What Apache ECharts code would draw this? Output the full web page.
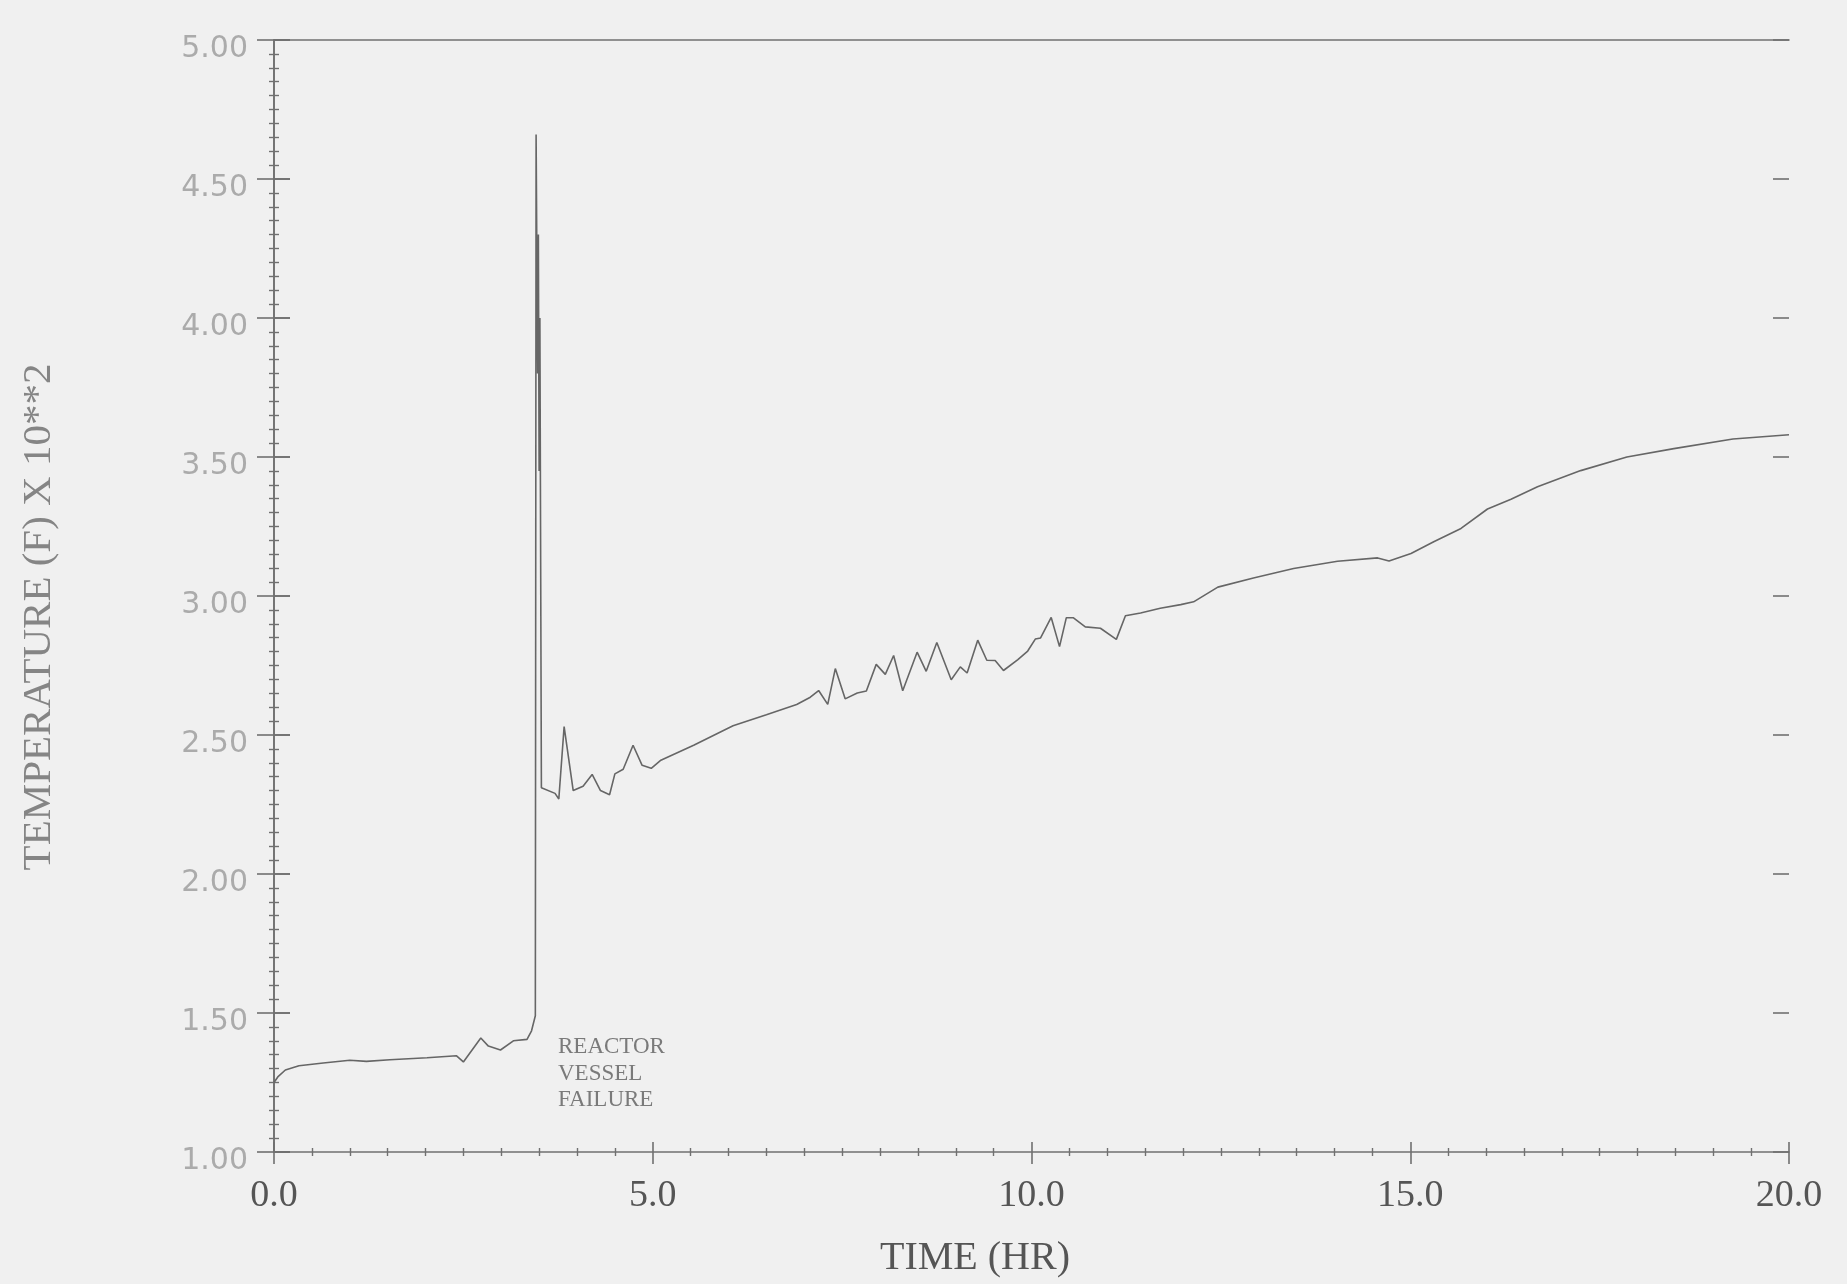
<!DOCTYPE html>
<html>
<head>
<meta charset="utf-8">
<script src="https://cdn.jsdelivr.net/npm/echarts@6/dist/echarts.min.js"></script>
<style>
  html, body { margin: 0; padding: 0; background: #f0f0f0; }
  #chart { width: 1847px; height: 1284px; }
</style>
</head>
<body>
<div id="chart"></div>
<script>
// ---- data (time in hours, temperature in units of 10**2 F) ----
const timeHr = [
  0.00, 0.05, 0.15, 0.33, 0.65, 1.00, 1.22, 1.53, 2.02, 2.41, 2.50, 2.73, 2.83, 2.99, 3.16, 3.34, 3.40, 3.45,
  3.46, 3.48, 3.49, 3.50, 3.51, 3.53,
  3.71, 3.76, 3.83, 3.95, 4.08, 4.20, 4.31, 4.43, 4.50, 4.61, 4.74, 4.86, 4.98, 5.10, 5.54, 6.06, 6.50, 6.90,
  7.08, 7.19, 7.31, 7.41, 7.54, 7.70, 7.82, 7.95, 8.07, 8.18, 8.30, 8.49, 8.61, 8.75, 8.94, 9.06, 9.15, 9.29,
  9.41, 9.52, 9.63, 9.82, 9.95, 10.05, 10.12, 10.26, 10.37, 10.46, 10.55, 10.71, 10.91, 11.12, 11.24, 11.44,
  11.70, 11.97, 12.14, 12.46, 12.93, 13.46, 14.04, 14.57, 14.72, 15.01, 15.31, 15.67, 16.02, 16.33, 16.68,
  17.25, 17.86, 18.48, 19.26, 20.00
];
const tempF100 = [
  1.250, 1.270, 1.295, 1.310, 1.320, 1.330, 1.326, 1.332, 1.339, 1.346, 1.324, 1.410, 1.381, 1.367, 1.400, 1.405, 1.436, 1.490,
  4.660, 3.800, 4.300, 3.450, 4.000, 2.310,
  2.290, 2.270, 2.530, 2.300, 2.316, 2.358, 2.300, 2.285, 2.360, 2.377, 2.463, 2.391, 2.380, 2.408, 2.463, 2.533, 2.573, 2.610,
  2.636, 2.660, 2.610, 2.739, 2.630, 2.651, 2.658, 2.754, 2.718, 2.786, 2.659, 2.798, 2.729, 2.833, 2.699, 2.745, 2.723, 2.841,
  2.769, 2.768, 2.732, 2.771, 2.802, 2.845, 2.849, 2.923, 2.818, 2.922, 2.922, 2.889, 2.884, 2.844, 2.929, 2.939,
  2.956, 2.969, 2.979, 3.032, 3.065, 3.099, 3.125, 3.137, 3.126, 3.153, 3.195, 3.243, 3.313, 3.348, 3.393,
  3.451, 3.500, 3.530, 3.565, 3.580
];
const xTickLabels = ['0.0', '5.0', '10.0', '15.0', '20.0'];
const yTickLabels = ['1.00', '1.50', '2.00', '2.50', '3.00', '3.50', '4.00', '4.50', '5.00'];
const xAxisTitle = 'TIME (HR)';
const yAxisTitle = 'TEMPERATURE (F) X 10**2';
const noteLines = ['REACTOR', 'VESSEL', 'FAILURE'];

// ---- chart ----
const seriesData = timeHr.map((t, i) => [t, tempF100[i]]);
const axisGray = '#707070';
const chart = echarts.init(document.getElementById('chart'), null, { renderer: 'canvas' });

const baseX = { type: 'value', min: 0, max: 20, interval: 5, splitLine: { show: false } };
const baseY = { type: 'value', min: 1, max: 5, interval: 0.5, splitLine: { show: false } };

chart.setOption({
  animation: false,
  backgroundColor: '#f0f0f0',
  grid: { left: 274, right: 58, top: 40, bottom: 132, containLabel: false },
  xAxis: [
    Object.assign({}, baseX, {
      position: 'bottom',
      axisLine: { show: true, lineStyle: { color: axisGray, width: 1.6 } },
      axisTick: { show: true, inside: false, length: 12, lineStyle: { color: axisGray, width: 1.6 } },
      minorTick: { show: true, splitNumber: 10, length: 4, lineStyle: { color: axisGray, width: 1.4 } },
      axisLabel: {
        show: true, margin: 25, color: '#555555', fontSize: 38,
        fontFamily: '"Liberation Serif", "DejaVu Serif", serif',
        formatter: (v) => xTickLabels[Math.round(v / 5)]
      }
    }),
    Object.assign({}, baseX, {
      position: 'bottom',
      axisLine: { show: false },
      axisTick: { show: true, inside: true, length: 10, lineStyle: { color: axisGray, width: 1.6 } },
      minorTick: { show: true, splitNumber: 10, length: 4, lineStyle: { color: axisGray, width: 1.4 } },
      axisLabel: { show: false }
    }),
    Object.assign({}, baseX, {
      position: 'top',
      axisLine: { show: true, lineStyle: { color: axisGray, width: 1.6 } },
      axisTick: { show: false },
      axisLabel: { show: false }
    })
  ],
  yAxis: [
    Object.assign({}, baseY, {
      position: 'left',
      axisLine: { show: true, lineStyle: { color: axisGray, width: 1.6 } },
      axisTick: { show: true, inside: false, length: 17, lineStyle: { color: axisGray, width: 1.6 } },
      minorTick: { show: true, splitNumber: 10, length: 5, lineStyle: { color: axisGray, width: 1.4 } },
      axisLabel: {
        show: true, margin: 26, color: '#ababab', fontSize: 30,
        fontFamily: '"DejaVu Sans", sans-serif',
        verticalAlign: 'top', lineHeight: 18,
        formatter: (v) => yTickLabels[Math.round((v - 1) / 0.5)]
      }
    }),
    Object.assign({}, baseY, {
      position: 'left',
      axisLine: { show: false },
      axisTick: { show: true, inside: true, length: 16, lineStyle: { color: axisGray, width: 1.6 } },
      minorTick: { show: true, splitNumber: 10, length: 5, lineStyle: { color: axisGray, width: 1.4 } },
      axisLabel: { show: false }
    }),
    Object.assign({}, baseY, {
      position: 'right',
      axisLine: { show: true, lineStyle: { color: axisGray, width: 1.6 } },
      axisTick: { show: true, inside: false, length: 16, lineStyle: { color: axisGray, width: 1.6 } },
      axisLabel: { show: false }
    }),
    Object.assign({}, baseY, {
      position: 'right',
      axisLine: { show: false },
      axisTick: { show: true, inside: true, length: 16, lineStyle: { color: axisGray, width: 1.6 } },
      axisLabel: { show: false }
    })
  ],
  series: [{
    type: 'line',
    xAxisIndex: 0,
    yAxisIndex: 0,
    data: seriesData,
    showSymbol: false,
    symbol: 'none',
    lineStyle: { color: '#666666', width: 1.6 },
    z: 5
  }],
  graphic: [
    {
      type: 'text', x: 975, y: 1258,
      style: {
        text: xAxisTitle, fill: '#555555', font: '40px "Liberation Serif", "DejaVu Serif", serif',
        textAlign: 'center', textVerticalAlign: 'middle'
      }
    },
    {
      type: 'text', x: 39, y: 617, rotation: Math.PI / 2,
      style: {
        text: yAxisTitle, fill: '#858585', font: '41px "Liberation Serif", "DejaVu Serif", serif',
        textAlign: 'center', textVerticalAlign: 'middle'
      }
    },
    {
      type: 'text', x: 558, y: 1034,
      style: {
        text: noteLines.join('\n'), fill: '#7a7a7a', font: '23px "Liberation Serif", "DejaVu Serif", serif',
        lineHeight: 26.5, textAlign: 'left', textVerticalAlign: 'top'
      }
    }
  ]
});
</script>
</body>
</html>
